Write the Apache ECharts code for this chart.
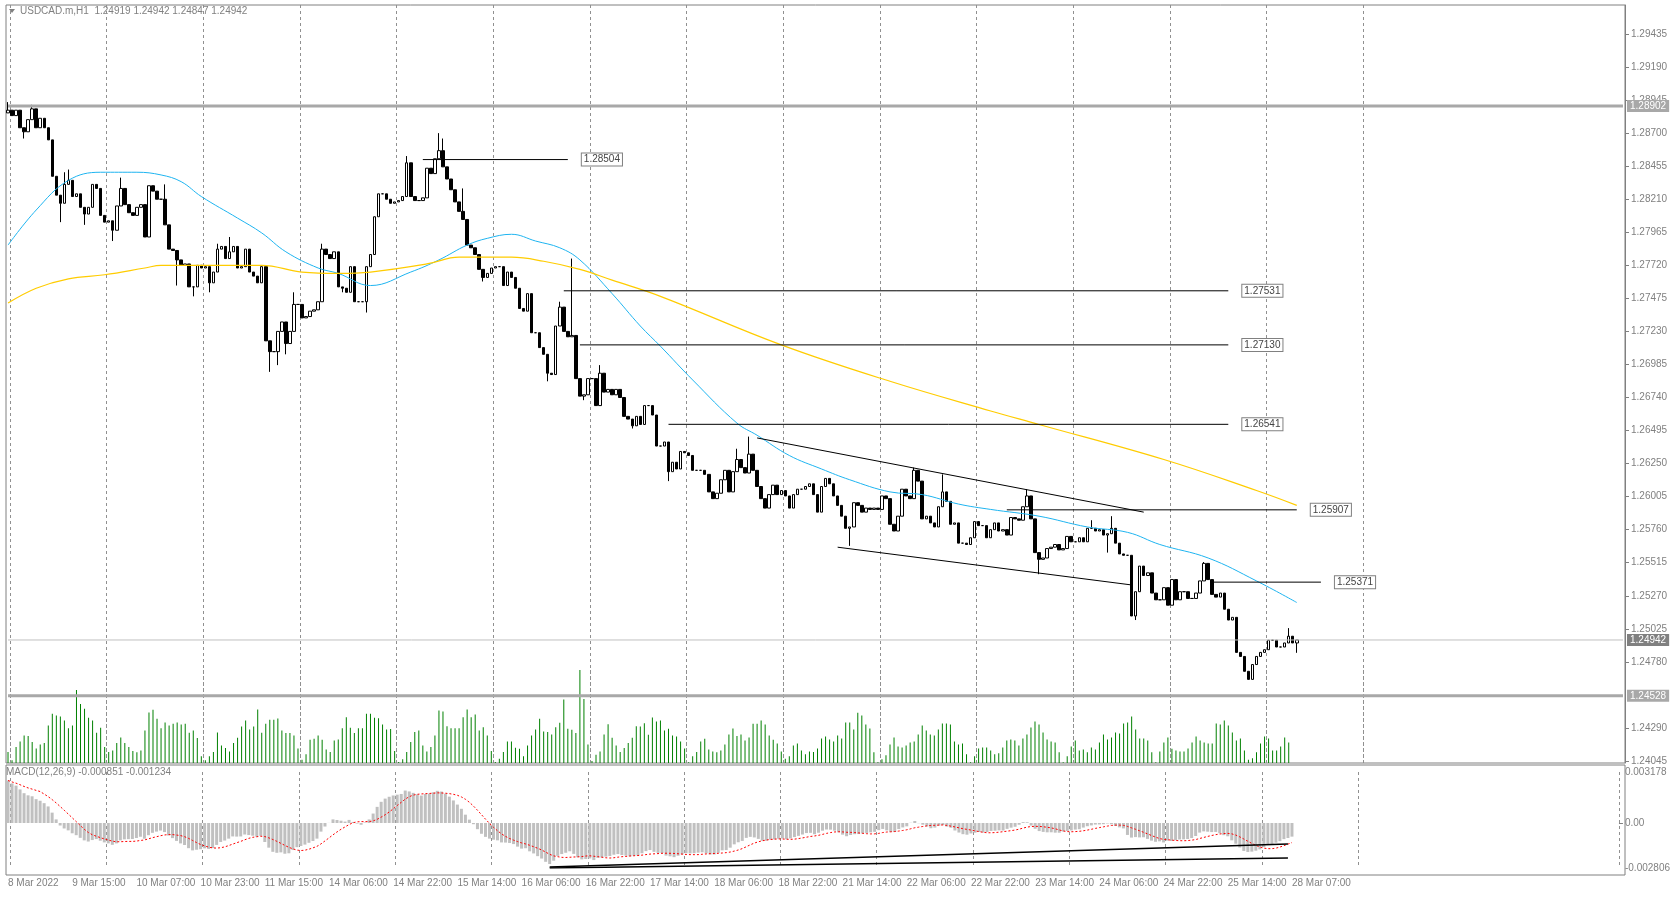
<!DOCTYPE html>
<html><head><meta charset="utf-8">
<script src="https://cdn.jsdelivr.net/npm/echarts@6/dist/echarts.min.js"></script>
<style>html,body{margin:0;padding:0;background:#fff}#c{width:1673px;height:897px}</style>
</head><body><div id="c"></div>
<script>
const closes = [
1.2887,1.2883,1.2887,1.2874,1.2871,1.2880,1.2888,1.2874,1.2881,1.2874,
1.2865,1.2838,1.2824,1.2818,1.2832,1.2835,1.2823,1.2825,1.2815,1.2810,
1.2815,1.2832,1.2829,1.2809,1.2804,1.2805,1.2798,1.2816,1.2829,1.2817,
1.2811,1.2809,1.2815,1.2817,1.2793,1.2831,1.2827,1.2821,1.2821,1.2802,
1.2784,1.2783,1.2776,1.2772,1.2773,1.2756,1.2756,1.2772,1.2770,1.2771,
1.2759,1.2767,1.2784,1.2786,1.2777,1.2782,1.2786,1.2770,1.2771,1.2784,
1.2767,1.2764,1.2759,1.2771,1.2716,1.2708,1.2708,1.2723,1.2730,1.2714,
1.2723,1.2743,1.2743,1.2733,1.2734,1.2738,1.2739,1.2745,1.2784,1.2780,
1.2777,1.2782,
1.2756,1.2755,1.2752,1.2771,1.2745,1.2745,1.2745,1.2771,1.2780,1.2808,
1.2825,1.2825,1.2821,1.2818,1.2819,1.2820,1.2823,1.2848,1.2823,1.2820,
1.2820,1.2822,1.2844,1.2840,1.2851,1.2857,1.2845,1.2836,1.2828,1.2819,
1.2812,1.2806,1.2787,1.2785,1.2780,1.2769,1.2763,1.2766,1.2770,1.2771,
1.2771,1.2757,1.2767,1.2763,1.2755,1.2740,1.2738,1.2751,1.2722,1.2722,
1.2711,1.2706,1.2692,1.2691,1.2727,1.2741,1.2723,1.2719,1.2720,1.2688,
1.2675,1.2676,1.2688,1.2688,1.2668,1.2692,1.2678,1.2680,1.2676,1.2680,
1.2674,1.2660,1.2658,1.2653,1.2660,1.2654,1.2668,1.2668,1.2661,1.2638,
1.2638,1.2641,1.2619,1.2626,1.2621,1.2634,1.2633,1.2631,1.2620,1.2620,
1.2620,1.2617,1.2604,1.2599,1.2603,1.2613,1.2620,1.2604,1.2619,1.2628,
1.2622,1.2618,1.2632,1.2620,1.2608,1.2599,1.2592,1.2602,1.2609,1.2602,
1.2605,1.2601,1.2592,1.2602,1.2606,1.2606,1.2608,1.2610,1.2602,1.2589,
1.2608,1.2614,1.2610,1.2601,1.2594,1.2586,1.2577,1.2578,1.2596,1.2594,
1.2589,1.2592,1.2591,1.2592,1.2591,1.2601,1.2599,1.2580,1.2575,1.2586,
1.2606,1.2601,1.2599,1.2620,1.2612,1.2584,1.2586,1.2581,1.2578,1.2593,
1.2604,1.2597,1.2580,1.2581,1.2566,1.2566,1.2565,1.2570,1.2582,1.2579,
1.2579,1.2570,1.2576,
1.2581,1.2575,1.2576,1.2572,1.2585,1.2584,1.2583,1.2593,1.2601,1.2584,
1.2559,1.2554,1.2555,1.2562,1.2563,1.2565,1.2561,1.2562,1.2571,1.2567,
1.2567,1.2570,1.2567,1.2577,1.2577,1.2575,1.2576,1.2572,1.2573,1.2577,
1.2566,1.2558,1.2557,1.2557,1.2512,1.2530,1.2549,1.2542,1.2544,1.2529,
1.2524,1.2524,1.2533,1.2520,1.2539,1.2524,1.2530,1.2530,1.2525,1.2525,
1.2529,1.2538,1.2551,1.2539,1.2528,1.2526,1.2529,1.2517,1.2509,1.2511,
1.2485,1.2482,1.2471,1.2465,1.2476,1.2482,1.2485,1.2487,1.2494,1.2494,
1.2489,1.2489,1.2492,1.2497,1.2492,1.24942];
const firstOpen = 1.2885;
const highIdx = [0,6,14,15,28,35,39,52,55,71,78,99,107,108,113,137,140,147,181,184,225,232,253,269,274,297,318];
const highVal = [1.2893,1.2891,1.2841,1.2843,1.2837,1.2831,1.2832,1.2788,1.2793,1.2752,1.2788,1.2853,1.2870,1.2866,1.2829,1.2745,1.2777,1.2698,1.2636,1.2645,1.2622,1.2617,1.2606,1.2583,1.2586,1.2552,1.2503];
const lowIdx = [4,13,19,26,42,46,50,65,67,69,83,89,118,134,143,155,164,209,256,273,279,280,308,320];
const lowVal = [1.2866,1.2804,1.2802,1.2790,1.2757,1.2749,1.2752,1.2693,1.2698,1.2706,1.2752,1.2737,1.2760,1.2686,1.2672,1.2651,1.2612,1.2564,1.2543,1.2559,1.2512,1.2509,1.2465,1.24847];
const volumes = [33,8,48,65,83,81,63,44,56,60,113,148,143,140,128,105,113,220,178,163,136,128,91,106,48,33,38,60,77,60,48,36,32,38,98,152,160,133,105,122,113,118,122,116,118,91,98,75,20,8,20,33,92,53,45,35,60,76,110,128,101,110,161,91,118,130,130,134,98,90,90,83,44,10,26,70,73,83,70,41,33,68,71,105,138,106,90,105,105,148,148,136,135,116,101,102,36,3,11,33,63,93,98,53,35,48,83,158,155,111,105,105,105,138,161,138,146,98,108,83,36,3,13,33,65,65,46,43,20,53,83,101,133,95,93,86,108,121,191,103,100,90,280,193,56,6,25,35,86,117,76,53,33,45,60,76,111,110,120,85,137,125,128,98,
103,83,80,65,44,2,20,33,65,73,41,35,32,38,56,86,104,81,86,68,77,118,118,128,116,83,70,59,35,13,20,53,59,38,26,35,33,44,74,80,71,65,83,74,122,122,101,151,143,116,104,32,2,11,23,56,77,50,47,53,62,65,86,113,98,86,83,101,119,119,116,65,56,59,26,2,20,44,47,47,38,26,29,47,68,71,68,53,74,86,107,125,116,92,71,65,62,32,2,20,50,68,38,41,32,47,41,62,86,71,77,92,89,119,122,140,101,74,74,68,32,2,35,62,77,43,38,35,35,44,62,80,68,62,59,59,119,116,128,113,92,68,74,38,10,14,32,59,80,74,38,38,50,77,62];
const maFastIdx = [0,7,15,23,32,38,43,48,57,63,69,77,82,90,100,107,114,119,125,131,137,142,150,157,162,170,181,186,194,202,209,219,227,236,244,256,268,278,286,298,310,320];
const maFastVal = [1.2787,1.2813,1.2835,1.2841,1.2841,1.2839,1.2834,1.2823,1.2807,1.2796,1.2782,1.2770,1.2766,1.2757,1.2767,1.2776,1.2787,1.2792,1.2795,1.2790,1.2785,1.2776,1.2751,1.2727,1.2712,1.2687,1.2655,1.2646,1.2631,1.2621,1.2613,1.2604,1.2602,1.2595,1.2591,1.2586,1.2578,1.2574,1.2565,1.2555,1.2538,1.2522];
const maSlowIdx = [0,7,15,24,34,38,48,63,73,82,90,104,112,125,133,142,150,162,192,219,244,256,287,310,320];
const maSlowVal = [1.2744,1.2755,1.2762,1.2765,1.2770,1.2772,1.2772,1.2772,1.2767,1.2766,1.2767,1.2773,1.2778,1.2778,1.2775,1.2769,1.2761,1.2749,1.2713,1.2686,1.2664,1.2654,1.2628,1.2605,1.2594];
const levelVal = [1.28504,1.27531,1.27130,1.26541,1.25907,1.25371];
const levelFrom = [103,138,142,164,248,299];
const levelTo = [139,303,303,303,320,326];
const markVal = [1.28902,1.24528,1.24942];
const priceTicks = [1.29435,1.29190,1.28945,1.28700,1.28455,1.28210,1.27965,1.27720,1.27475,1.27230,1.26985,1.26740,1.26495,1.26250,1.26005,1.25760,1.25515,1.25270,1.25025,1.24780,1.24290,1.24045];
const timeLabels = ["8 Mar 2022","9 Mar 15:00","10 Mar 07:00","10 Mar 23:00","11 Mar 15:00","14 Mar 06:00","14 Mar 22:00","15 Mar 14:00","16 Mar 06:00","16 Mar 22:00","17 Mar 14:00","18 Mar 06:00","18 Mar 22:00","21 Mar 14:00","22 Mar 06:00","22 Mar 22:00","23 Mar 14:00","24 Mar 06:00","24 Mar 22:00","25 Mar 14:00","28 Mar 07:00"];
const macdTicks = [0.003178,0,-0.002806];

const N = 402;
const cats = Array.from({length:N},(_,i)=>String(i));
const candles = closes.map((c,i)=>{
  const o = i===0?firstOpen:closes[i-1];
  let h = Math.max(o,c), l = Math.min(o,c);
  const hi = highIdx.indexOf(i); if(hi>=0) h=Math.max(h,highVal[hi]);
  const li = lowIdx.indexOf(i); if(li>=0) l=Math.min(l,lowVal[li]);
  return [o,c,l,h];
});
// MACD (12,26,9) computed from closes, MT4 style (signal = SMA)
let e12=1.2880,e26=1.2852; const macd=[],sig=[];
closes.forEach((c,i)=>{e12+= (c-e12)*2/13; e26+=(c-e26)*2/27; macd.push(e12-e26);
  const s=macd.slice(Math.max(0,i-8)); sig.push(s.reduce((a,b)=>a+b,0)/s.length);});

const gray='#808080', F='Liberation Sans';
const dayLine = i => i%24===1 && i<=337;
function xa(gi, showLabels){
  return {type:'category',gridIndex:gi,data:cats,boundaryGap:true,
    axisLine:{show:false},axisTick:{show:false},
    axisLabel:{show:showLabels,hideOverlap:false,interval:(i)=>i%16===0&&i<=320,formatter:(v,i)=>timeLabels[i/16]||'',
      color:gray,fontFamily:F,fontSize:10,align:'left',margin:10},
    splitLine:{show:true,interval:(i)=>dayLine(i),lineStyle:{color:'#909090',type:[3,3],width:1}}};
}
const markStyle = [
  {w:3,c:'#a8a8a8',bg:'#a8a8a8'},{w:3,c:'#a8a8a8',bg:'#a8a8a8'},{w:1,c:'#c0c0c0',bg:'#808080'}];
const option = {
  animation:false,
  grid:[
    {left:6,right:48,top:5,height:758,show:true,borderColor:gray,borderWidth:1},
    {left:6,right:48,top:670,height:93},
    {left:6,right:48,top:772,height:96}
  ],
  xAxis:[xa(0,false),xa(1,false),xa(2,true)],
  yAxis:[
    {gridIndex:0,position:'right',min:1.2403,max:1.2965,splitLine:{show:false},
     axisLine:{show:true,lineStyle:{color:gray}},
     axisTick:{show:true,length:4,customValues:priceTicks,lineStyle:{color:gray}},
     axisLabel:{customValues:priceTicks,color:gray,fontFamily:F,fontSize:10,margin:6,formatter:v=>v.toFixed(5)}},
    {gridIndex:1,min:0,max:280,show:false},
    {gridIndex:2,position:'right',min:-0.002806,max:0.003178,splitLine:{show:false},
     axisLine:{show:false},
     axisTick:{show:true,length:4,customValues:[0],lineStyle:{color:gray}},
     axisLabel:{customValues:macdTicks,color:gray,fontFamily:F,fontSize:10,margin:6,
       formatter:v=>Math.abs(v)<1e-9?'0.00':v.toFixed(6)}}
  ],
  graphic:[
    {type:'rect',shape:{x:6,y:765,width:1619,height:110},style:{fill:'none',stroke:gray,lineWidth:1},silent:true},
    {type:'polygon',shape:{points:[[9,9],[15,9],[12,13]]},style:{fill:gray}},
    {type:'text',left:20,top:6,style:{text:'USDCAD.m,H1  1.24919 1.24942 1.24847 1.24942',fill:gray,font:'10px "Liberation Sans"'}},
    {type:'text',left:6,top:767,style:{text:'MACD(12,26,9) -0.000851 -0.001234',fill:gray,font:'10px "Liberation Sans"'}}
  ],
  series:[
    ...markVal.map((v,k)=>({type:'line',xAxisIndex:0,yAxisIndex:0,data:[[0,v],[N-1,v]],symbol:'none',silent:true,
      lineStyle:{color:markStyle[k].c,width:markStyle[k].w},
      endLabel:{show:true,formatter:v.toFixed(5),distance:4,color:'#fff',backgroundColor:markStyle[k].bg,fontFamily:F,fontSize:10,padding:[1,3]}})),
    {type:'candlestick',xAxisIndex:0,yAxisIndex:0,data:candles,barWidth:3,
     itemStyle:{color:'#fff',color0:'#000',borderColor:'#000',borderColor0:'#000',borderWidth:1}},
    {type:'line',xAxisIndex:0,yAxisIndex:0,data:maFastIdx.map((x,i)=>[x,maFastVal[i]]),smooth:0.4,symbol:'none',lineStyle:{color:'#1eb4f0',width:1}},
    {type:'line',xAxisIndex:0,yAxisIndex:0,data:maSlowIdx.map((x,i)=>[x,maSlowVal[i]]),smooth:0.4,symbol:'none',lineStyle:{color:'#ffcc00',width:1.2}},
    ...levelVal.map((v,k)=>({type:'line',xAxisIndex:0,yAxisIndex:0,data:[[levelFrom[k],v],[levelTo[k],v]],symbol:'none',
      lineStyle:{color:'#000',width:1},
      endLabel:{show:true,formatter:v.toFixed(5),distance:14,color:'#444',fontFamily:F,fontSize:10,backgroundColor:'#fff',borderColor:gray,borderWidth:1,padding:[1,2]}})),
    {type:'line',xAxisIndex:0,yAxisIndex:0,data:[[186,1.2644],[282,1.2589]],symbol:'none',lineStyle:{color:'#000',width:1}},
    {type:'line',xAxisIndex:0,yAxisIndex:0,data:[[206,1.2563],[279,1.2535]],symbol:'none',lineStyle:{color:'#000',width:1}},
    {type:'bar',xAxisIndex:1,yAxisIndex:1,data:volumes,barWidth:1,itemStyle:{color:'#008000'}},
    {type:'bar',xAxisIndex:2,yAxisIndex:2,data:macd,barWidth:3,itemStyle:{color:'#c0c0c0'}},
    {type:'line',xAxisIndex:2,yAxisIndex:2,data:sig,symbol:'none',lineStyle:{color:'#ff0000',width:1,type:[2,2]}},
    {type:'line',xAxisIndex:2,yAxisIndex:2,data:[[135,-0.00274],[319,-0.00131]],symbol:'none',lineStyle:{color:'#000',width:1.5}},
    {type:'line',xAxisIndex:2,yAxisIndex:2,data:[[135,-0.00280],[319,-0.00218]],symbol:'none',lineStyle:{color:'#000',width:1.5}}
  ]
};
const chart = echarts.init(document.getElementById('c'));
chart.setOption(option);
</script></body></html>
